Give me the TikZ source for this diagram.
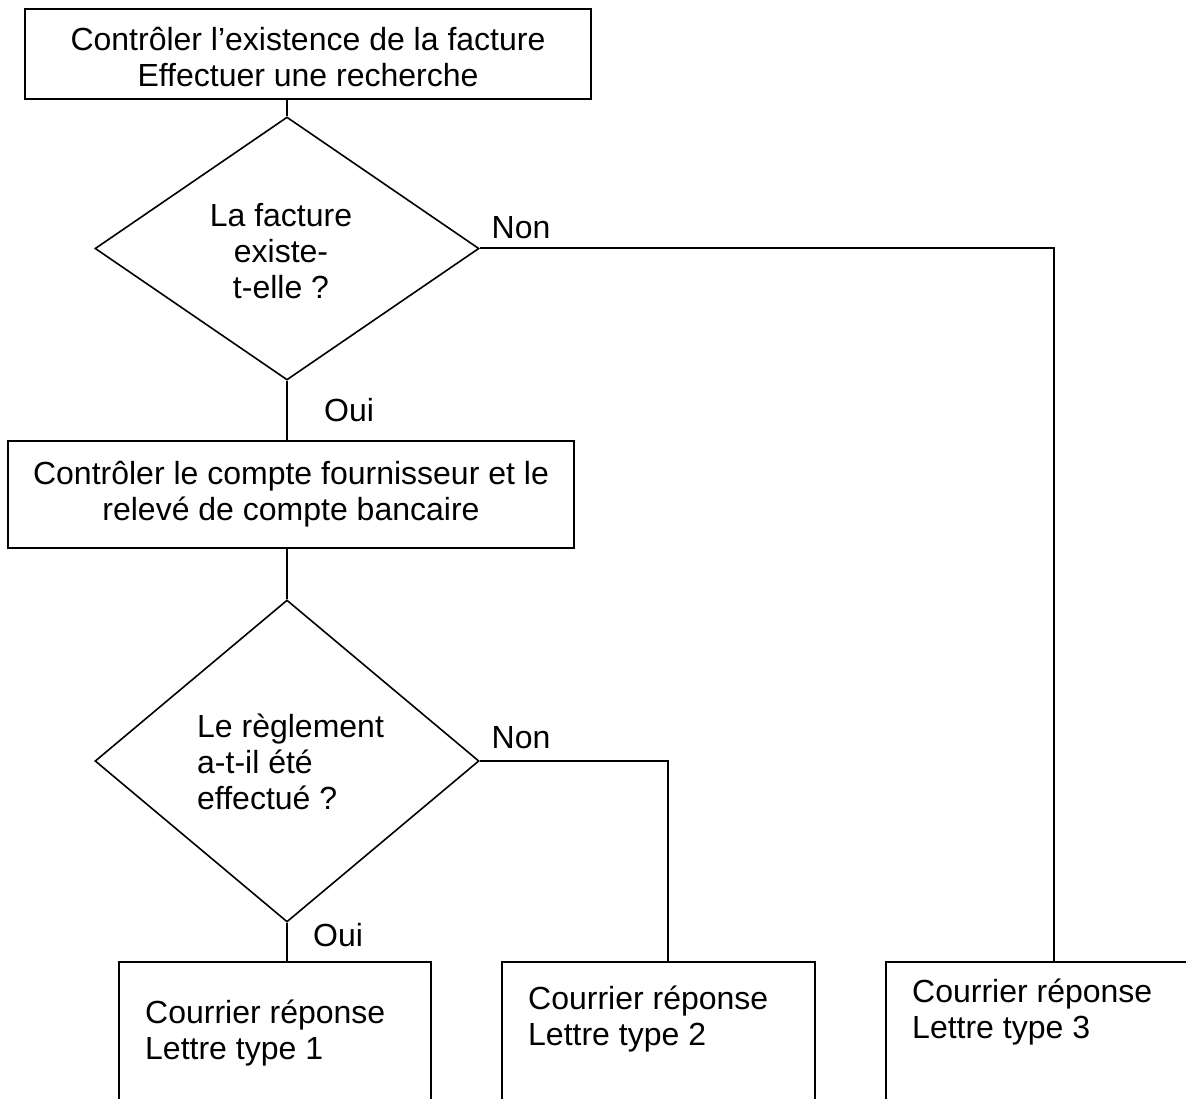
\documentclass[tikz,border=0pt]{standalone}
\usepackage{fontspec}
\setmainfont{Liberation Sans}
\usetikzlibrary{shapes.geometric}
\begin{document}
\begin{tikzpicture}[x=1pt, y=-1pt,
  every node/.style={font=\fontsize{32}{36}\selectfont},
  box/.style={shape=rectangle, draw=black, line width=2.2pt},
  choice/.style={shape=diamond, draw=black, line width=1.6pt, inner sep=0pt},
  txt/.style={inner sep=0pt},
  link/.style={draw=black, line width=2pt}]
\useasboundingbox (0,0) rectangle (1186,1099);
\clip (0,0) rectangle (1186,1099);
\node[box, minimum width=566pt, minimum height=90pt] (check) at (308,54) {};
\node[txt, align=center] (checkt) at (308,57.5) {Contrôler l’existence de la facture\\Effectuer une recherche};
\node[choice, minimum width=384pt, minimum height=263pt] (exists) at (287,248.5) {};
\node[txt, align=center] (existsq) at (281,251) {La facture\\existe-\\t-elle ?};
\node[box, minimum width=566pt, minimum height=107pt, align=center] (account) at (291,494.5) {Contrôler le compte fournisseur et le\\relevé de compte bancaire};
\node[choice, minimum width=384pt, minimum height=322pt] (paid) at (287,761) {};
\node[txt, anchor=west, align=left] (paidq) at (197,762) {Le règlement\\a-t-il été\\effectué ?};
\node[box, minimum width=312pt, minimum height=148pt] (letter1) at (275,1036) {};
\node[box, minimum width=313pt, minimum height=148pt] (letter2) at (658.5,1036) {};
\node[box, minimum width=336pt, minimum height=148pt] (letter3) at (1054,1036) {};
\node[txt, anchor=west, align=left] (reply1) at (145,1033) {Courrier réponse\\Lettre type 1};
\node[txt, anchor=west, align=left] (reply2) at (528,1019.5) {Courrier réponse\\Lettre type 2};
\node[txt, anchor=west, align=left] (reply3) at (912,1012.5) {Courrier réponse\\Lettre type 3};
\node[txt] (no1) at (521,228) {Non};
\node[txt] (yes1) at (349,410) {Oui};
\node[txt] (no2) at (521,738) {Non};
\node[txt] (yes2) at (338,935) {Oui};
\draw[link] (exists.north |- check.south) -- (exists.north);
\draw[link] (exists.east) -| (letter3.north);
\draw[link] (exists.south) -- (exists.south |- account.north);
\draw[link] (paid.north |- account.south) -- (paid.north);
\draw[link] (paid.east) -| ([xshift=9.5pt]letter2.north);
\draw[link] (paid.south) -- (paid.south |- letter1.north);
\end{tikzpicture}
\end{document}
